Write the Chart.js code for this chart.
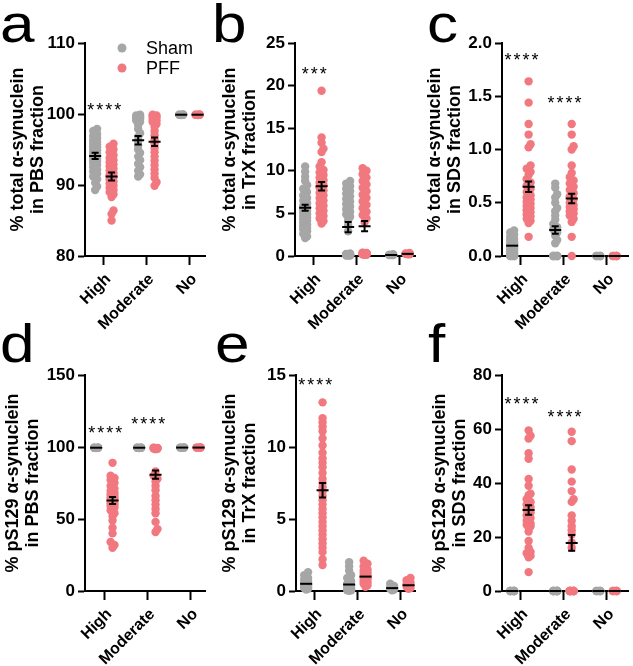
<!DOCTYPE html>
<html><head><meta charset="utf-8">
<script src="https://cdn.jsdelivr.net/npm/chart.js@4.4.0/dist/chart.umd.min.js"></script>
<style>
html,body{margin:0;padding:0;background:#fff;width:633px;height:666px;overflow:hidden;position:relative;font-family:"Liberation Sans",Arial,sans-serif}
canvas{position:absolute}
.letter{position:absolute;font-size:54px;line-height:54px;color:#000;transform-origin:left top;transform:scaleX(1.15)}
</style></head><body>
<canvas id="pa"></canvas><canvas id="pb"></canvas><canvas id="pc"></canvas>
<canvas id="pd"></canvas><canvas id="pe"></canvas><canvas id="pf"></canvas>
<div class="letter" style="left:0px;top:-4px">a</div>
<div class="letter" style="left:212px;top:-4px">b</div>
<div class="letter" style="left:427px;top:-4px">c</div>
<div class="letter" style="left:0px;top:316px">d</div>
<div class="letter" style="left:215px;top:316px">e</div>
<div class="letter" style="left:428px;top:316px">f</div>
<script>
const categories = ['High', 'Moderate', 'No'];
const groupNames = ['Sham', 'PFF'];
const shamColor = '#a6a6a6';
const pffColor = '#f27880';

// ---- panel a: % total α-synuclein in PBS fraction
const aShamHigh = [97.9, 97.6, 97.2, 96.9, 96.6, 96.3, 96.1, 95.9, 95.7, 95.5, 95.3, 95.1, 94.9, 94.7, 94.5, 94.3, 94.1, 93.9, 93.7, 93.5, 93.3, 93.1, 92.8, 92.5, 92.2, 91.9, 91.6, 91.2, 90.8, 90.3, 89.8, 89.3];
const aShamMod = [99.9, 99.8, 99.7, 99.6, 99.5, 99.4, 99.3, 99.1, 98.9, 98.5, 97.9, 97.3, 96.8, 96.2, 95.6, 95.0, 94.5, 94.0, 93.5, 93.0, 92.5, 92.0, 91.5, 91.2];
const aShamNo = [99.9, 99.85, 99.9, 99.95, 99.9, 99.9];
const aPffHigh = [95.8, 95.4, 95.0, 94.6, 94.2, 93.8, 93.5, 93.2, 92.9, 92.6, 92.3, 92.0, 91.7, 91.4, 91.1, 90.8, 90.5, 90.2, 89.9, 89.6, 89.3, 89.0, 88.7, 88.3, 86.4, 85.9, 85.0];
const aPffMod = [99.9, 99.8, 99.7, 99.5, 99.3, 99.1, 98.9, 98.6, 98.2, 97.6, 97.0, 96.4, 95.8, 95.2, 94.6, 94.0, 93.4, 92.8, 92.2, 91.6, 91.0, 90.4, 89.9];
const aPffNo = [99.9, 99.85, 99.9, 99.95, 99.9, 99.9];
const aShamMean = [94.1, 96.3, 99.9];
const aShamSem = [0.45, 0.6, 0.02];
const aPffMean = [91.2, 96.1, 99.9];
const aPffSem = [0.55, 0.6, 0.02];
const aTicks = [80, 90, 100, 110];
const aStars = [['****', 0, 101.0]];

// ---- panel b: % total α-synuclein in TrX fraction
const bShamHigh = [10.5, 9.9, 9.3, 8.8, 8.3, 7.9, 7.5, 7.1, 6.8, 6.5, 6.2, 5.9, 5.7, 5.5, 5.3, 5.1, 4.9, 4.7, 4.5, 4.3, 4.1, 3.9, 3.7, 3.5, 3.3, 3.1, 2.9, 2.6, 2.3, 2.1];
const bShamMod = [8.8, 8.5, 8.2, 7.9, 7.6, 7.3, 7.0, 6.7, 6.4, 6.1, 5.8, 5.5, 5.2, 4.9, 4.6, 4.2, 3.6, 2.9, 0.3, 0.25, 0.2, 0.2, 0.15, 0.15, 0.1, 0.1, 0.1, 0.05, 0.05, 0.05];
const bShamNo = [0.2, 0.15, 0.15, 0.1, 0.1, 0.1];
const bPffHigh = [19.4, 13.9, 13.3, 12.6, 12.2, 11.0, 10.5, 10.1, 9.8, 9.5, 9.2, 8.9, 8.6, 8.3, 8.0, 7.7, 7.4, 7.1, 6.8, 6.5, 6.2, 5.9, 5.6, 5.3, 5.0, 4.7, 4.4, 4.1, 3.8];
const bPffMod = [10.3, 10.0, 9.6, 9.2, 8.8, 8.4, 8.0, 7.6, 7.2, 6.8, 6.4, 6.0, 5.6, 5.2, 4.8, 4.4, 4.0, 0.4, 0.35, 0.35, 0.3, 0.3, 0.3, 0.25, 0.25, 0.2, 0.2, 0.2, 0.15, 0.15];
const bPffNo = [0.35, 0.3, 0.25, 0.25, 0.2, 0.2];
const bShamMean = [5.67, 3.4, 0.12];
const bShamSem = [0.35, 0.6, 0.02];
const bPffMean = [8.2, 3.5, 0.25];
const bPffSem = [0.5, 0.6, 0.02];
const bTicks = [0, 5, 10, 15, 20, 25];
const bStars = [['***', 0, 21.7]];

// ---- panel c: % total α-synuclein in SDS fraction
const cShamHigh = [0.24, 0.22, 0.2, 0.18, 0.16, 0.15, 0.13, 0.12, 0.11, 0.1, 0.09, 0.08, 0.07, 0.06, 0.05, 0.04, 0.03, 0.02, 0.01, 0, 0, 0, 0, 0];
const cShamMod = [0.68, 0.64, 0.58, 0.55, 0.5, 0.45, 0.42, 0.38, 0.34, 0.3, 0.27, 0.25, 0.22, 0.19, 0.15, 0.12, 0, 0, 0, 0, 0, 0, 0];
const cShamNo = [0, 0, 0, 0, 0, 0];
const cPffHigh = [1.64, 1.44, 1.24, 1.14, 1.05, 1.02, 0.85, 0.82, 0.79, 0.76, 0.72, 0.69, 0.66, 0.63, 0.6, 0.57, 0.55, 0.53, 0.51, 0.49, 0.47, 0.45, 0.43, 0.41, 0.39, 0.37, 0.35, 0.33, 0.31, 0.18];
const cPffMod = [1.24, 1.14, 1.03, 1.0, 0.85, 0.78, 0.74, 0.71, 0.68, 0.65, 0.62, 0.59, 0.56, 0.53, 0.5, 0.48, 0.46, 0.44, 0.42, 0.4, 0.38, 0.35, 0.32, 0.18, 0];
const cPffNo = [0, 0, 0, 0, 0, 0];
const cShamMean = [0.097, 0.244, 0];
const cShamSem = [0.01, 0.035, 0];
const cPffMean = [0.65, 0.54, 0];
const cPffSem = [0.05, 0.045, 0];
const cTicks = [0, 0.5, 1.0, 1.5, 2.0];
const cStars = [['****', 0, 1.87], ['****', 1, 1.46]];

// ---- panel d: % pS129 α-synuclein in PBS fraction
const dShamHigh = [99.6, 99.5, 99.4, 99.5, 99.3, 99.6, 99.4, 99.5];
const dShamMod = [99.6, 99.5, 99.4, 99.5, 99.3, 99.6, 99.4, 99.5];
const dShamNo = [99.6, 99.6, 99.5, 99.7, 99.6, 99.6];
const dPffHigh = [89, 80, 78.5, 77, 75, 73, 71, 69.5, 68, 67, 66, 65, 64, 63, 62, 61, 60, 59, 58, 56, 54, 52, 49, 44, 40, 34, 32, 30];
const dPffMod = [99.5, 99.4, 99.3, 99.2, 99.0, 98.8, 98.5, 83, 80, 78, 76, 73, 70, 66, 63, 60, 57, 54, 48, 43, 41];
const dPffNo = [99.6, 99.6, 99.5, 99.7, 99.6, 99.6];
const dShamMean = [99.5, 99.5, 99.6];
const dShamSem = [0.1, 0.1, 0.1];
const dPffMean = [62.8, 80.8, 99.6];
const dPffSem = [2.4, 2.8, 0.1];
const dTicks = [0, 50, 100, 150];
const dStars = [['****', 0, 112], ['****', 1, 118]];

// ---- panel e: % pS129 α-synuclein in TrX fraction
const eShamHigh = [1.3, 1.1, 0.9, 0.8, 0.7, 0.6, 0.55, 0.5, 0.45, 0.4, 0.35, 0.3, 0.25, 0.2, 0.15, 0.1];
const eShamMod = [2.0, 1.7, 1.4, 1.1, 0.9, 0.7, 0.5, 0.4, 0.3, 0.2, 0.15, 0.1, 0.05, 0.05, 0.02];
const eShamNo = [0.5, 0.35, 0.25, 0.2, 0.15, 0.1, 0.05];
const ePffHigh = [13.1, 12.0, 11.7, 11.4, 11.1, 10.6, 10.1, 9.6, 9.2, 8.9, 8.6, 8.2, 7.8, 7.5, 7.2, 6.9, 6.6, 6.3, 6.0, 5.7, 5.4, 5.1, 4.8, 4.5, 4.2, 3.9, 3.6, 3.3, 3.0, 2.7, 2.2, 1.8];
const ePffMod = [2.1, 1.9, 1.7, 1.5, 1.4, 1.3, 1.2, 1.1, 1.0, 0.95, 0.9, 0.8, 0.7, 0.6, 0.5, 0.4, 0.3];
const ePffNo = [0.9, 0.75, 0.6, 0.5, 0.4, 0.3, 0.2, 0.15];
const eShamMean = [0.5, 0.45, 0.2];
const eShamSem = [0.06, 0.1, 0.05];
const ePffMean = [7.0, 1.0, 0.4];
const ePffSem = [0.5, 0.08, 0.06];
const eTicks = [0, 5, 10, 15];
const eStars = [['****', 0, 14.5]];

// ---- panel f: % pS129 α-synuclein in SDS fraction
const fShamHigh = [0, 0, 0, 0, 0, 0, 0, 0, 0, 0];
const fShamMod = [0, 0, 0, 0, 0, 0, 0, 0, 0, 0];
const fShamNo = [0, 0, 0, 0, 0, 0];
const fPffHigh = [59.5, 57.5, 56.5, 51, 49, 41.5, 39, 36, 35.5, 34, 33, 32, 31, 30, 29, 28, 27, 26, 25, 24.5, 24, 23.5, 22, 18.5, 16, 14.5, 14, 13, 12.5, 7];
const fPffMod = [59, 55.5, 45, 40.5, 37, 34, 33, 28, 26, 24, 22.5, 21, 18, 16, 0, 0, 0, 0, 0, 0, 0, 0, 0, 0, 0];
const fPffNo = [0, 0, 0, 0, 0, 0];
const fShamMean = [0, 0, 0];
const fShamSem = [0, 0, 0];
const fPffMean = [30, 17.8, 0];
const fPffSem = [1.8, 2.9, 0];
const fTicks = [0, 20, 40, 60, 80];
const fStars = [['****', 0, 70.4], ['****', 1, 65.4]];

Chart.defaults.font.family = '"Liberation Sans", Arial, sans-serif';
Chart.defaults.color = '#000';

function swarm(vals, pxY) {
  const dotD = 4, step = 2, maxK = 1;
  const order = vals.map((v, i) => i).sort((a, b) => vals[a] - vals[b]);
  const placed = [], xs = [];
  for (const i of order) {
    const py = vals[i] * pxY;
    const cands = [0];
    for (let k = 1; k <= maxK; k++) cands.push(k * step, -k * step);
    let best = 0, bestS = Infinity;
    for (const c of cands) {
      let s = 0;
      for (const p of placed) { const d = Math.hypot(p.x - c, p.y - py); if (d < dotD) s += dotD - d; }
      if (s < bestS - 1e-9) { bestS = s; best = c; }
      if (s === 0) break;
    }
    placed.push({ x: best, y: py });
    xs[i] = best;
  }
  return xs;
}

const overlay = {
  id: 'overlay',
  afterDatasetsDraw(chart, args, o) {
    const { ctx } = chart;
    const x = chart.scales.x, y = chart.scales.y;
    ctx.save();
    ctx.strokeStyle = '#000';
    ctx.lineWidth = 2;
    o.groups.forEach(g => g.mean.forEach((m, ci) => {
      const cx = x.getPixelForValue(ci + g.shift);
      const my = y.getPixelForValue(m);
      const hi = y.getPixelForValue(m + g.sem[ci]);
      const lo = y.getPixelForValue(m - g.sem[ci]);
      ctx.beginPath();
      ctx.moveTo(cx - 6, my); ctx.lineTo(cx + 6, my);
      if (my - hi > 1.5) {
        ctx.moveTo(cx, hi); ctx.lineTo(cx, lo);
        ctx.moveTo(cx - 3.5, hi); ctx.lineTo(cx + 3.5, hi);
        ctx.moveTo(cx - 3.5, lo); ctx.lineTo(cx + 3.5, lo);
      }
      ctx.stroke();
    }));
    ctx.fillStyle = '#000';
    ctx.font = '18px "Liberation Sans", Arial, sans-serif';
    ctx.textAlign = 'center';
    ctx.textBaseline = 'middle';
    ctx.letterSpacing = '2px';
    o.stars.forEach(([t, ci, v]) => {
      ctx.fillText(t, x.getPixelForValue(ci) + 2, y.getPixelForValue(v) + 4);
    });
    ctx.letterSpacing = '0px';
    if (o.legend) {
      ctx.font = '18px "Liberation Sans", Arial, sans-serif';
      ctx.textAlign = 'left';
      [[shamColor, groupNames[0], 48], [pffColor, groupNames[1], 68]].forEach(([c, t, yy]) => {
        ctx.fillStyle = c;
        ctx.beginPath(); ctx.arc(122, yy, 4.5, 0, Math.PI * 2); ctx.fill();
        ctx.fillStyle = '#000';
        ctx.fillText(t, 146, yy + 1);
      });
    }
    ctx.restore();
  }
};

function buildPanel(cfg) {
  const cv = document.getElementById(cfg.id);
  cv.style.left = cfg.left + 'px'; cv.style.top = cfg.top + 'px';
  cv.style.width = cfg.w + 'px'; cv.style.height = cfg.h + 'px';
  cv.width = cfg.w; cv.height = cfg.h;
  const plotW = cfg.R - cfg.L, plotH = cfg.B - cfg.T;
  const pxX = 44.5;
  const xmin = -cfg.off / pxX, xmax = xmin + plotW / pxX;
  const pxY = plotH / (cfg.max - cfg.min);
  const groups = [
    { vals: cfg.sham, mean: cfg.shamMean, sem: cfg.shamSem, shift: -8.5 / pxX, color: shamColor },
    { vals: cfg.pff, mean: cfg.pffMean, sem: cfg.pffSem, shift: 8.5 / pxX, color: pffColor }
  ];
  const datasets = groups.map((g, gi) => {
    const pts = [];
    g.vals.forEach((vals, ci) => {
      const offs = swarm(vals, pxY);
      vals.forEach((v, i) => pts.push({ x: ci + g.shift + offs[i] / pxX, y: v }));
    });
    return { label: groupNames[gi], data: pts, backgroundColor: g.color, borderWidth: 0,
      pointRadius: 4.2, pointHoverRadius: 4.2, clip: false };
  });
  new Chart(cv, {
    type: 'scatter',
    data: { datasets },
    options: {
      responsive: false, animation: false, events: [],
      layout: { padding: { top: cfg.T, right: cfg.w - cfg.R, left: 0, bottom: 0 } },
      plugins: { legend: { display: false }, tooltip: { enabled: false },
        overlay: { groups, stars: cfg.stars, legend: cfg.legend } },
      scales: {
        x: {
          type: 'linear', min: xmin, max: xmax,
          afterBuildTicks: s => { s.ticks = [0, 1, 2].map(v => ({ value: v })); },
          afterFit: s => { s.height = cfg.h - cfg.B; },
          ticks: { callback: v => categories[v], autoSkip: false, minRotation: 45, maxRotation: 45,
            font: { size: 16, weight: 'bold' }, color: '#000', padding: 5, labelOffset: 5 },
          grid: { display: true, drawOnChartArea: false, drawTicks: true, tickLength: 9, tickWidth: 2, tickColor: '#000' },
          border: { display: true, color: '#000', width: 2 }
        },
        y: {
          type: 'linear', min: cfg.min, max: cfg.max,
          afterBuildTicks: s => { s.ticks = cfg.ticks.map(v => ({ value: v })); },
          afterFit: s => { s.width = cfg.L; },
          ticks: { callback: v => cfg.dec ? v.toFixed(cfg.dec) : String(v), font: { size: 17, weight: 'bold' }, color: '#000', padding: 3 },
          grid: { display: true, drawOnChartArea: false, drawTicks: true, tickLength: 7, tickWidth: 2, tickColor: '#000' },
          border: { display: true, color: '#000', width: 2 },
          title: { display: true, text: cfg.title, color: '#000', font: { size: 18, weight: 'bold', lineHeight: 1.1 },
            padding: { top: cfg.tp, bottom: 0 } }
        }
      }
    },
    plugins: [overlay]
  });
}

buildPanel({ id: 'pa', left: 0, top: 0, w: 210, h: 330, L: 85, R: 210, T: 43, B: 256, off: 19,
  min: 80, max: 110, ticks: aTicks, title: ['% total α-synuclein', 'in PBS fraction'], tp: 8,
  sham: [aShamHigh, aShamMod, aShamNo], pff: [aPffHigh, aPffMod, aPffNo],
  shamMean: aShamMean, shamSem: aShamSem, pffMean: aPffMean, pffSem: aPffSem, stars: aStars, legend: true });
buildPanel({ id: 'pb', left: 210, top: 0, w: 210, h: 330, L: 85, R: 210, T: 43, B: 256, off: 19,
  min: 0, max: 25, ticks: bTicks, title: ['% total α-synuclein', 'in TrX fraction'], tp: 10,
  sham: [bShamHigh, bShamMod, bShamNo], pff: [bPffHigh, bPffMod, bPffNo],
  shamMean: bShamMean, shamSem: bShamSem, pffMean: bPffMean, pffSem: bPffSem, stars: bStars });
buildPanel({ id: 'pc', left: 420, top: 0, w: 213, h: 330, L: 82, R: 213, T: 43, B: 256, off: 19,
  min: 0, max: 2, ticks: cTicks, dec: 1, title: ['% total α-synuclein', 'in SDS fraction'], tp: 5,
  sham: [cShamHigh, cShamMod, cShamNo], pff: [cPffHigh, cPffMod, cPffNo],
  shamMean: cShamMean, shamSem: cShamSem, pffMean: cPffMean, pffSem: cPffSem, stars: cStars });
buildPanel({ id: 'pd', left: 0, top: 330, w: 210, h: 336, L: 85, R: 210, T: 45, B: 261, off: 20,
  min: 0, max: 150, ticks: dTicks, title: ['% pS129 α-synuclein', 'in PBS fraction'], tp: 3,
  sham: [dShamHigh, dShamMod, dShamNo], pff: [dPffHigh, dPffMod, dPffNo],
  shamMean: dShamMean, shamSem: dShamSem, pffMean: dPffMean, pffSem: dPffSem, stars: dStars });
buildPanel({ id: 'pe', left: 210, top: 330, w: 210, h: 336, L: 86, R: 210, T: 45, B: 261, off: 19,
  min: 0, max: 15, ticks: eTicks, title: ['% pS129 α-synuclein', 'in TrX fraction'], tp: 10,
  sham: [eShamHigh, eShamMod, eShamNo], pff: [ePffHigh, ePffMod, ePffNo],
  shamMean: eShamMean, shamSem: eShamSem, pffMean: ePffMean, pffSem: ePffSem, stars: eStars });
buildPanel({ id: 'pf', left: 420, top: 330, w: 213, h: 336, L: 82, R: 213, T: 45, B: 261, off: 19,
  min: 0, max: 80, ticks: fTicks, title: ['% pS129 α-synuclein', 'in SDS fraction'], tp: 10,
  sham: [fShamHigh, fShamMod, fShamNo], pff: [fPffHigh, fPffMod, fPffNo],
  shamMean: fShamMean, shamSem: fShamSem, pffMean: fPffMean, pffSem: fPffSem, stars: fStars });
</script>
</body></html>
